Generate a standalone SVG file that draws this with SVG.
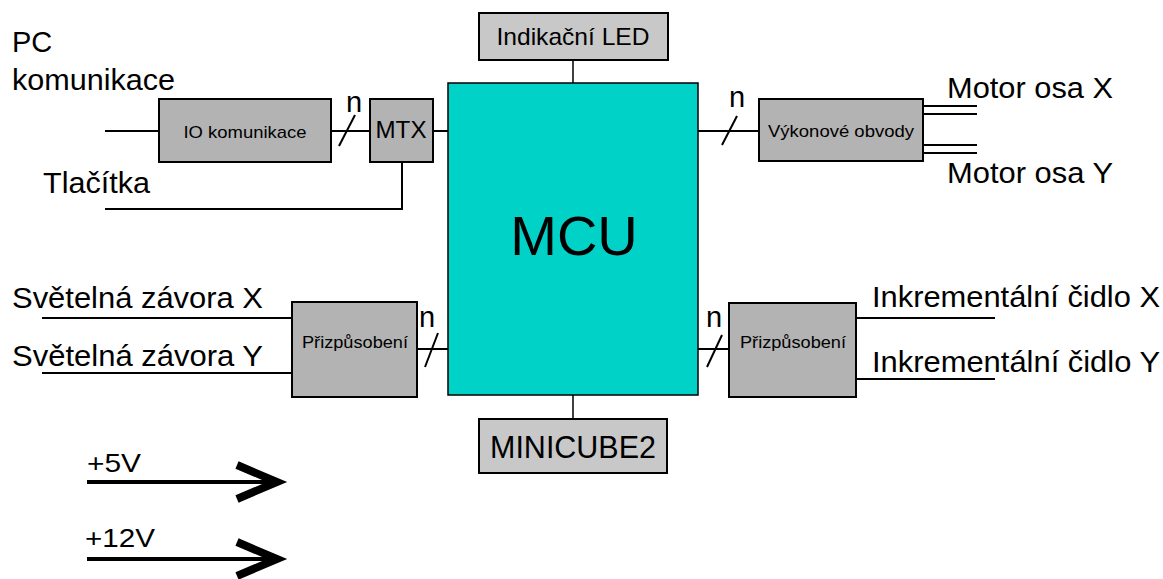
<svg xmlns="http://www.w3.org/2000/svg" width="1163" height="579" viewBox="0 0 1163 579">
<style>
text{font-family:"Liberation Sans",Arial,sans-serif;fill:#000}
.big{font-size:29px}
.small{font-size:17px}
.box{fill:#b3b3b3;stroke:#000;stroke-width:2}
.lbox{fill:#c8c8c8;stroke:#000;stroke-width:2}
.ln{stroke:#000;stroke-width:2;fill:none}
.pw{stroke:#000;stroke-width:4;fill:none}
.chev{stroke:#000;stroke-width:8;fill:none;stroke-linejoin:miter;stroke-miterlimit:10}
</style>
<rect width="1163" height="579" fill="#fff"/>
<g id="connectors">
<line class="ln" x1="105" y1="131" x2="159" y2="131"/>
<line class="ln" x1="331" y1="131" x2="370" y2="131"/>
<line class="ln" x1="339" y1="146" x2="355" y2="115"/>
<line class="ln" x1="433" y1="131" x2="448" y2="131"/>
<polyline class="ln" points="105,209 402,209 402,162"/>
<line x1="573" y1="60" x2="573" y2="83" stroke="#000" stroke-width="1.5"/>
<line x1="573" y1="395" x2="573" y2="419" stroke="#000" stroke-width="1.5"/>
<line class="ln" x1="698" y1="131" x2="759" y2="131"/>
<line class="ln" x1="722" y1="145" x2="737" y2="116"/>
<line class="ln" x1="923" y1="106" x2="977" y2="106"/>
<line class="ln" x1="923" y1="114" x2="977" y2="114"/>
<line class="ln" x1="923" y1="145" x2="977" y2="145"/>
<line class="ln" x1="923" y1="153" x2="977" y2="153"/>
<line class="ln" x1="42" y1="318" x2="292" y2="318"/>
<line class="ln" x1="42" y1="373" x2="292" y2="373"/>
<line class="ln" x1="417" y1="349" x2="448" y2="349"/>
<line class="ln" x1="425" y1="367" x2="438" y2="333"/>
<line class="ln" x1="698" y1="349" x2="729" y2="349"/>
<line class="ln" x1="707" y1="367" x2="722" y2="335"/>
<line class="ln" x1="856" y1="318" x2="995" y2="318"/>
<line class="ln" x1="856" y1="379" x2="995" y2="379"/>
<text class="big" x="346" y="112">n</text>
<text class="big" x="729" y="107">n</text>
<text class="big" x="419" y="327">n</text>
<text class="big" x="706" y="327">n</text>
</g>
<g id="mcu">
<rect x="448" y="83" width="250" height="312" fill="#00d2c8" stroke="#000" stroke-width="1.5"/>
<text x="574" y="255" font-size="56" text-anchor="middle">MCU</text>
</g>
<g id="led">
<rect class="lbox" x="479" y="13" width="189" height="47"/>
<text x="573" y="45" font-size="24" text-anchor="middle" textLength="153" lengthAdjust="spacingAndGlyphs">Indikační LED</text>
</g>
<g id="minicube">
<rect class="lbox" x="479" y="419" width="188" height="54"/>
<text x="573" y="458" font-size="31" text-anchor="middle" textLength="166" lengthAdjust="spacingAndGlyphs">MINICUBE2</text>
</g>
<g id="io">
<rect class="box" x="159" y="99" width="172" height="63"/>
<text class="small" x="245" y="138" text-anchor="middle" textLength="123" lengthAdjust="spacingAndGlyphs">IO komunikace</text>
</g>
<g id="mtx">
<rect class="box" x="370" y="99" width="63" height="63"/>
<text x="401" y="138" font-size="23" text-anchor="middle" textLength="51" lengthAdjust="spacingAndGlyphs">MTX</text>
</g>
<g id="vykon">
<rect class="box" x="759" y="99" width="164" height="62"/>
<text class="small" x="841" y="137" text-anchor="middle" textLength="146" lengthAdjust="spacingAndGlyphs">Výkonové obvody</text>
</g>
<g id="prizp-left">
<rect class="box" x="292" y="302" width="125" height="95"/>
<text class="small" x="355" y="348" text-anchor="middle" textLength="106" lengthAdjust="spacingAndGlyphs">Přizpůsobení</text>
</g>
<g id="prizp-right">
<rect class="box" x="729" y="303" width="127" height="94"/>
<text class="small" x="793" y="348" text-anchor="middle" textLength="106" lengthAdjust="spacingAndGlyphs">Přizpůsobení</text>
</g>
<g id="labels">
<text class="big" x="12" y="52">PC</text>
<text class="big" x="12" y="90" textLength="163" lengthAdjust="spacingAndGlyphs">komunikace</text>
<text class="big" x="43" y="193" textLength="107" lengthAdjust="spacingAndGlyphs">Tlačítka</text>
<text class="big" x="947" y="98" textLength="166" lengthAdjust="spacingAndGlyphs">Motor osa X</text>
<text class="big" x="947" y="183" textLength="166" lengthAdjust="spacingAndGlyphs">Motor osa Y</text>
<text class="big" x="12" y="308" textLength="251" lengthAdjust="spacingAndGlyphs">Světelná závora X</text>
<text class="big" x="12" y="366" textLength="251" lengthAdjust="spacingAndGlyphs">Světelná závora Y</text>
<text class="big" x="872" y="307" textLength="288" lengthAdjust="spacingAndGlyphs">Inkrementální čidlo X</text>
<text class="big" x="872" y="372" textLength="288" lengthAdjust="spacingAndGlyphs">Inkrementální čidlo Y</text>
</g>
<g id="power5">
<line class="pw" x1="87" y1="482" x2="280" y2="482"/>
<polyline class="chev" points="237,465 277,482 237,499"/>
<text x="87" y="472" font-size="26" textLength="54" lengthAdjust="spacingAndGlyphs">+5V</text>
</g>
<g id="power12">
<line class="pw" x1="87" y1="559" x2="280" y2="559"/>
<polyline class="chev" points="237,542 277,559 237,576"/>
<text x="85" y="547" font-size="26" textLength="70" lengthAdjust="spacingAndGlyphs">+12V</text>
</g>
</svg>
